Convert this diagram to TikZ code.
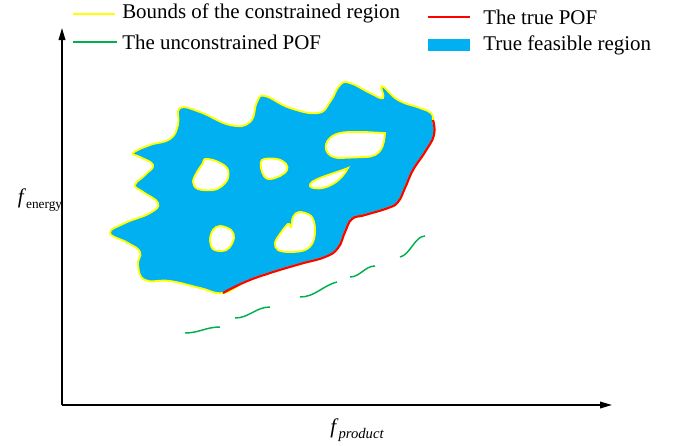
\documentclass[tikz,border=0pt]{standalone}
\usepackage{fontspec}
\setmainfont{Liberation Serif}
\usetikzlibrary{arrows.meta}
\definecolor{feasblue}{HTML}{00B0F0}
\definecolor{bndyellow}{HTML}{FFFF00}
\definecolor{pofred}{HTML}{FF0000}
\definecolor{ucgreen}{HTML}{00B050}
\tikzset{
  axisline/.style={line width=1.1pt,-{Triangle[length=9pt,width=5pt]}},
  legtext/.style={anchor=west,inner sep=0pt,font=\fontsize{15.7}{18}\selectfont},
  bound/.style={draw=bndyellow,line width=1.4pt},
  hole/.style={bound,fill=white},
  truepof/.style={draw=pofred,line width=1.6pt},
  ucpof/.style={draw=ucgreen,line width=1.1pt},
}
\begin{document}
\begin{tikzpicture}[x=0.75pt,y=-0.75pt]
\useasboundingbox (0,0) rectangle (686,446);
% axes
\coordinate (O) at (62,405);
\coordinate (Ytip) at (62,28);
\coordinate (Xtip) at (612,405);
\draw[axisline] (O) -- (Ytip);
\draw[axisline] (O) -- (Xtip);
\node[inner sep=0pt,font=\fontsize{15.7}{18}\selectfont] (ylab) at (40,200) {\textit{f}\raisebox{-0.5ex}{\fontsize{10}{12}\selectfont energy}};
\node[inner sep=0pt,font=\fontsize{15.7}{18}\selectfont] (xlab) at (357,430) {\textit{f}\raisebox{-0.5ex}{\fontsize{11}{12}\selectfont\itshape product}};
% legend
\coordinate (ly1) at (73,14); \coordinate (ly2) at (115,14);
\draw[draw=bndyellow,line width=1.1pt] (ly1) -- (ly2);
\node[legtext] (lt1) at (122,13) {Bounds of the constrained region};
\coordinate (lg1) at (73,42); \coordinate (lg2) at (117,42);
\draw[ucpof] (lg1) -- (lg2);
\node[legtext] (lt2) at (122,42) {The unconstrained POF};
\coordinate (lr1) at (428,17); \coordinate (lr2) at (470,17);
\draw[truepof,line width=1.3pt] (lr1) -- (lr2);
\node[legtext] (lt3) at (483,17) {The true POF};
\fill[feasblue] (428,39) rectangle (470,51);
\node[legtext] (lt4) at (483,45) {True feasible region};
% feasible region
\draw[bound,fill=feasblue] plot[smooth cycle,tension=0.75] coordinates {
 (433,120) (434,135) (425,152) (413,170) (405,188) (398,202) (388,208)
 (365,215) (352,219) (345,232) (338,248) (325,257) (300,264) (270,273)
 (245,282) (223,293)
 (200,288) (170,281) (145,280) (138,265) (140,252) (128,243) (110,233)
 (125,223) (150,213) (158,203) (143,192) (135,185) (145,175) (153,165)
 (140,157) (133,153) (150,145) (170,139) (178,125) (180,108) (200,112)
 (230,125) (250,122) (257,102) (265,96) (290,108) (318,113) (330,102)
 (340,85) (350,83) (370,93) (383,98) (382,86) (398,100) (420,108) (431,113)};
% holes
\draw[hole] plot[smooth cycle,tension=0.6] coordinates {
 (205,159) (216,161) (227,168) (228,178) (222,186) (213,190) (198,189) (193,182) (197,172) (203,163)};
\draw[hole] plot[smooth cycle,tension=0.6] coordinates {
 (262,160) (277,159) (286,164) (287,170) (280,176) (268,179) (262,172)};
\draw[hole] (385,133) .. controls (384,145) and (382,157) .. (365,157)
  -- (340,158) .. controls (325,158) and (322,145) .. (330,138)
  .. controls (337,131) and (350,132) .. (360,132)
  .. controls (370,132) and (380,133) .. (385,133) -- cycle;
\draw[hole] (348,168) .. controls (330,175) and (308,180) .. (310,186)
  .. controls (311,190) and (335,192) .. (348,168) -- cycle;
\draw[hole] plot[smooth cycle,tension=0.6] coordinates {
 (220,226) (231,230) (234,238) (229,248) (222,251) (213,249) (210,240) (213,230)};
\draw[hole] plot[smooth cycle,tension=0.6] coordinates {
 (299,212) (311,216) (315,228) (313,242) (305,250) (290,252) (278,250) (275,243)
 (280,234) (288,224) (291,227) (293,217)};
% true POF
\draw[truepof] plot[smooth,tension=0.75] coordinates {
 (433,120) (434,135) (425,152) (413,170) (405,188) (398,202) (388,208)
 (365,215) (352,219) (345,232) (338,248) (325,257) (300,264) (270,273)
 (245,282) (223,293)};
% unconstrained POF dashes
\coordinate (g1a) at (185,333); \coordinate (g1b) at (220,327);
\coordinate (g2a) at (235,318); \coordinate (g2b) at (270,307);
\coordinate (g3a) at (300,297); \coordinate (g3b) at (337,282);
\coordinate (g4a) at (350,277); \coordinate (g4b) at (375,266);
\coordinate (g5a) at (400,257); \coordinate (g5b) at (425,236);
\draw[ucpof] (g1a) .. controls +(14,0) and +(-14,0) .. (g1b);
\draw[ucpof] (g2a) .. controls +(14,0) and +(-14,0) .. (g2b);
\draw[ucpof] (g3a) .. controls +(15,0) and +(-15,4) .. (g3b);
\draw[ucpof] (g4a) .. controls +(10,0) and +(-10,0) .. (g4b);
\draw[ucpof] (g5a) .. controls +(10,-2) and +(-10,0) .. (g5b);
\end{tikzpicture}
\end{document}
